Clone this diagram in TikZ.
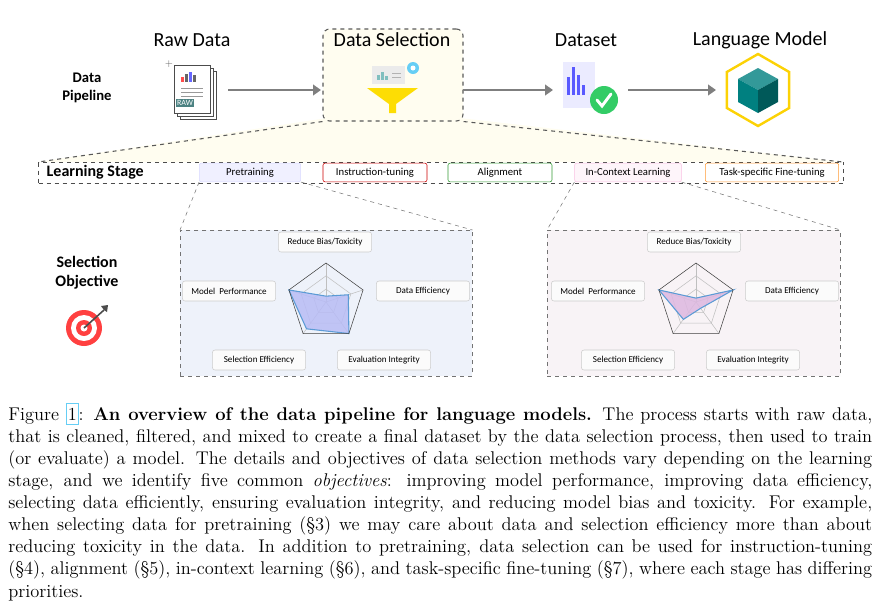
\documentclass[tikz,border=0pt]{standalone}
\usepackage{fontspec}
\setsansfont{Carlito}
\usetikzlibrary{positioning,arrows.meta,shapes.geometric}
\definecolor{bandbg}{HTML}{FFFDF0}
\definecolor{preblue}{HTML}{EEF2FA}
\definecolor{iclpink}{HTML}{F8F3F6}
\definecolor{arrowgray}{HTML}{7F7F7F}
\definecolor{radarfill}{HTML}{B8BCF5}
\definecolor{radarfilltwo}{HTML}{DDB8E0}
\definecolor{radarline}{HTML}{5B9BD5}
\tikzset{
  head/.style={font=\sffamily\fontsize{15}{15}\selectfont},
  side/.style={font=\sffamily\bfseries\fontsize{11}{14}\selectfont, align=center},
  stagebox/.style={draw, rounded corners=1.5pt, minimum width=#1, minimum height=14pt, inner sep=1pt, font=\sffamily\fontsize{8}{8}\selectfont},
  objbox/.style={draw=black!20, fill=white!70!gray!10, rounded corners=2pt, minimum height=15pt, minimum width=#1, font=\sffamily\fontsize{6.8}{6.8}\selectfont},
  flow/.style={draw=arrowgray, line width=2.2pt, -{Triangle[length=6pt,width=8pt]}},
  zoomline/.style={draw=black!65, dashed, thick},
}
\newcommand{\radar}[7]{%
  \begin{scope}[shift={(#1)}]
    \foreach \f in {0.33,0.67}
      \draw[black!25] (90:29.25*\f pt) -- (18:29.25*\f pt) -- (-54:29.25*\f pt) -- (-126:29.25*\f pt) -- (162:29.25*\f pt) -- cycle;
    \foreach \a in {90,18,-54,-126,162}
      \draw[black!25] (0,0) -- (\a:29.25pt);
    \fill[#7, opacity=0.85] (90:29.25*#2 pt) -- (18:29.25*#3 pt) -- (-54:29.25*#4 pt) -- (-126:29.25*#5 pt) -- (162:29.25*#6 pt) -- cycle;
    \draw[radarline, thick] (90:29.25*#2 pt) -- (18:29.25*#3 pt) -- (-54:29.25*#4 pt) -- (-126:29.25*#5 pt) -- (162:29.25*#6 pt) -- cycle;
    \draw[black!75] (90:29.25pt) -- (18:29.25pt) -- (-54:29.25pt) -- (-126:29.25pt) -- (162:29.25pt) -- cycle;
  \end{scope}}
\begin{document}
\begin{tikzpicture}[x=0.75pt, y=-0.75pt]
\useasboundingbox (0,0) rectangle (884,615);

% zoom band and selection box
\fill[bandbg] (327,118) -- (38,162) -- (843,162) -- (460,118) -- cycle;
\node[draw=black!65, dashed, thick, rounded corners=5pt, fill=bandbg, minimum width=105pt, minimum height=69pt] (selbox) at (393,75) {};
\draw[zoomline] (selbox.south west) -- (38,162);
\draw[zoomline] (selbox.south east) -- (843,162);

% headings
\node[head] (hraw) at (192,40) {Raw Data};
\node[head] (hsel) at (392,40) {Data Selection};
\node[head] (hset) at (586,40) {Dataset};
\node[head] (hlm) at (760,40) {Language Model};
\node[side] (pipe) at (87,88) {Data\\Pipeline};

% raw data icon
\node[draw=black!70, fill=white, minimum width=27pt, minimum height=36pt] (rawc) at (198,95) {};
\node[draw=black!70, fill=white, minimum width=27pt, minimum height=36pt] (rawb) at (195,92) {};
\node[draw=black!70, fill=white, minimum width=27pt, minimum height=36pt] (raw) at (192,89) {};
\foreach \i/\h/\c in {0/5/red!70, 1/8/black!60, 2/10/blue!60, 3/7/black!60}
  \fill[\c] (181+\i*4,82) rectangle ++(2.5,-\h);
\foreach \yy in {88,92,96}
  \draw[black!40] (181,\yy) -- (203,\yy);
\node[fill=teal!60!black!70, text=white, font=\sffamily\fontsize{6}{6}\selectfont, inner sep=1pt] (rawtag) at (185,103) {RAW};
\node[font=\scriptsize, black!60] (spark) at (169,64) {+};

% funnel icon
\fill[black!8] (372,66) rectangle (405,84);
\foreach \i/\h in {0/5,1/8,2/4}
  \fill[teal!50] (377+\i*4,80) rectangle ++(2.5,-\h);
\foreach \yy in {73,77}
  \draw[black!30] (392,\yy) -- (401,\yy);
\fill[cyan!60] (413,68) circle (6);
\fill[white] (413,68) circle (2.5);
\fill[yellow!80!orange] (367,88) -- (418,88) -- (396,104) -- (396,113) -- (389,113) -- (389,104) -- cycle;

% dataset icon
\fill[blue!8] (563,62) rectangle (595,108);
\foreach \i/\h in {0/18,1/28,2/20,3/10}
  \fill[blue!65] (567+\i*5,95) rectangle ++(2.5,-\h);
\fill[green!50!teal!80] (604,100) circle (14);
\draw[white, line width=2.2pt, line cap=round] (597,100) -- (602,106) -- (611,94);

% language model icon
\node[draw=yellow!70!orange, line width=1.8pt, regular polygon, regular polygon sides=6, shape border rotate=30, minimum size=54pt] (hexring) at (758,90) {};
\fill[teal!80] (758,68) -- (778,79) -- (758,90) -- (738,79) -- cycle;
\fill[teal] (738,79) -- (758,90) -- (758,113) -- (738,102) -- cycle;
\fill[teal!70!black] (778,79) -- (758,90) -- (758,113) -- (778,102) -- cycle;

% pipeline arrows
\coordinate (rawout) at (228,90);
\coordinate (selin) at (321,90);
\coordinate (selout) at (463,90);
\coordinate (setin) at (553,90);
\coordinate (setout) at (628,90);
\coordinate (lmin) at (716,90);
\draw[flow] (rawout) -- (selin);
\draw[flow] (selout) -- (setin);
\draw[flow] (setout) -- (lmin);

% learning stage bar
\node[draw=black!70, dashed, thick, minimum width=604pt, minimum height=16pt, anchor=north west] (bar) at (38,162) {};
\node[side, font=\sffamily\bfseries\fontsize{12}{12}\selectfont, anchor=west] (lstage) at (42,172.5) {Learning Stage};
\node[stagebox=76pt, draw=blue!15, fill=blue!6] (pre) at (250,172.5) {Pretraining};
\node[stagebox=78pt, draw=red!80!black] (inst) at (375,172.5) {Instruction-tuning};
\node[stagebox=78pt, draw=green!50!black!80] (align) at (500,172.5) {Alignment};
\node[stagebox=80pt, draw=magenta!25, fill=magenta!4] (icl) at (628,172.5) {In-Context Learning};
\node[stagebox=100pt, draw=orange!80] (task) at (772,172.5) {Task-specific Fine-tuning};

% objective panels
\node[draw=black!55, dashed, fill=preblue, minimum width=219pt, minimum height=109.5pt, anchor=north west] (panA) at (180,230) {};
\node[draw=black!55, dashed, fill=iclpink, minimum width=219.75pt, minimum height=109.5pt, anchor=north west] (panB) at (547,230) {};
\draw[black!55, dashed] (pre.south west) -- (panA.north west);
\draw[black!55, dashed] (pre.south east) -- (panA.north east);
\draw[black!55, dashed] (icl.south west) -- (panB.north west);
\draw[black!55, dashed] (icl.south east) -- (panB.north east);

\node[side, font=\sffamily\bfseries\fontsize{12}{14.5}\selectfont] (selobj) at (87,273) {Selection\\Objective};
% target icon
\foreach \rr/\cc in {18/red!75, 13/white, 8/red!75, 3.5/white}
  \fill[\cc] (84,328) circle (\rr);
\draw[black!70, line width=1.2pt] (84,328) -- (104,310);
\fill[black!70] (104,310) -- (101,306) -- (108,305) -- (107,312) -- cycle;

\foreach \p/\dx in {A/0, B/369} {
  \node[objbox=70pt] (bias\p) at (325+\dx,242) {Reduce Bias/Toxicity};
  \node[objbox=70pt] (perf\p) at (229+\dx,291) {Model\ \ Performance};
  \node[objbox=70pt] (deff\p) at (423+\dx,291) {Data Efficiency};
  \node[objbox=70pt] (seff\p) at (259+\dx,360) {Selection Efficiency};
  \node[objbox=70pt] (eval\p) at (384+\dx,360) {Evaluation Integrity};
}
\radar{326,302}{0.15}{0.6}{1}{0.85}{1}{radarfill}
\radar{696,302}{0.1}{1}{0.2}{0.55}{1}{radarfilltwo}

% caption
\node[anchor=north west, inner sep=0pt, text width=648pt, align=justify, font=\fontsize{13.8}{16.6}\selectfont] (caption) at (8,403) {%
Figure \fcolorbox{cyan!60}{white}{\kern-2pt 1\kern-2pt}: \textbf{An overview of the data pipeline for language models.} The process starts with raw data,\linebreak
that is cleaned, filtered, and mixed to create a final dataset by the data selection process, then used to train\linebreak
(or evaluate) a model. The details and objectives of data selection methods vary depending on the learning\linebreak
stage, and we identify five common \textit{objectives}: improving model performance, improving data efficiency,\linebreak
selecting data efficiently, ensuring evaluation integrity, and reducing model bias and toxicity. For example,\linebreak
when selecting data for pretraining (\S3) we may care about data and selection efficiency more than about\linebreak
reducing toxicity in the data. In addition to pretraining, data selection can be used for instruction-tuning\linebreak
(\S4), alignment (\S5), in-context learning (\S6), and task-specific fine-tuning (\S7), where each stage has differing\linebreak
priorities.};
\end{tikzpicture}
\end{document}
